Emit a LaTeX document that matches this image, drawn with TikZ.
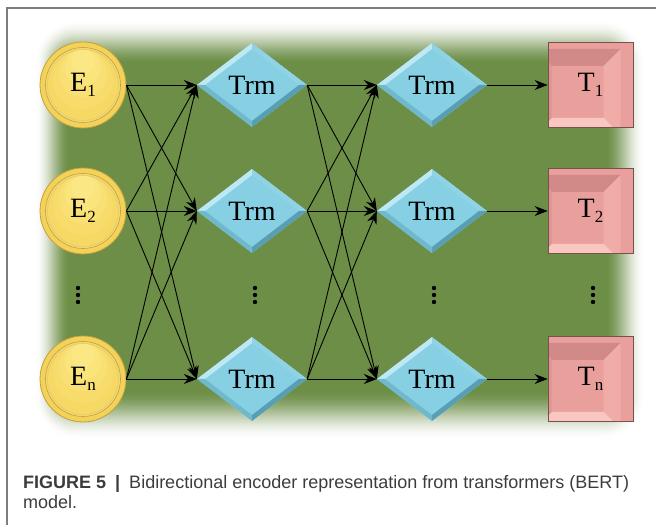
\documentclass[tikz,border=0pt]{standalone}
\usepackage{fontspec}
\setmainfont{Liberation Sans}
\newfontfamily\nodeserif{Liberation Serif}
\usepackage{tikz}
\usetikzlibrary{shapes.geometric, arrows.meta, positioning, calc}

\definecolor{bggreen}{RGB}{108,142,70}
\definecolor{goldrim}{RGB}{243,210,92}
\definecolor{goldedge}{RGB}{196,160,58}
\definecolor{goldlight}{RGB}{252,236,140}
\definecolor{goldfill}{RGB}{246,216,100}
\definecolor{trmblue}{RGB}{135,207,226}
\definecolor{trmlight}{RGB}{190,232,244}
\definecolor{trmmid}{RGB}{112,184,204}
\definecolor{trmdark}{RGB}{88,158,180}
\definecolor{tpink}{RGB}{233,160,156}
\definecolor{ttop}{RGB}{210,138,136}
\definecolor{tleft}{RGB}{222,150,146}
\definecolor{tright}{RGB}{240,172,167}
\definecolor{tbottom}{RGB}{250,198,192}
\definecolor{tedge}{RGB}{120,80,78}
\definecolor{framegray}{RGB}{125,125,125}
\definecolor{capgray}{RGB}{60,60,60}

\newcommand{\lowidx}[1]{\raisebox{-0.35ex}{\fontsize{17pt}{17pt}\selectfont #1}}

\tikzset{
  enc/.style={circle, minimum size=86pt, inner sep=0pt, fill=goldrim, draw=goldedge,
    line width=0.8pt, font=\nodeserif\fontsize{28pt}{28pt}\selectfont,
    path picture={
      \fill[goldfill] (path picture bounding box.center) circle (37.5pt);
      \foreach \r/\m in {30/20, 24/40, 18/60, 12/80} {
        \fill[goldlight!\m!goldfill] ([yshift=37.5pt-\r*1pt-2pt]path picture bounding box.center) circle (\r pt);
      }
      \draw[goldedge, line width=0.6pt] (path picture bounding box.center) circle (37.5pt);
      \draw[goldedge!60, line width=0.5pt] (path picture bounding box.center) circle (35.5pt);
    }},
  trm/.style={diamond, aspect=1.31, minimum width=110pt, minimum height=84pt, inner sep=0pt,
    fill=trmblue, font=\nodeserif\fontsize{28pt}{28pt}\selectfont,
    path picture={
      \begin{scope}[shift={(path picture bounding box.center)}]
        \fill[trmlight] (-55pt,0pt) -- (0pt,42pt) -- (0pt,36pt) -- (-47pt,0pt) -- cycle;
        \fill[trmblue!85!trmlight] (0pt,42pt) -- (55pt,0pt) -- (47pt,0pt) -- (0pt,36pt) -- cycle;
        \fill[trmdark] (55pt,0pt) -- (0pt,-42pt) -- (0pt,-36pt) -- (47pt,0pt) -- cycle;
        \fill[trmmid] (0pt,-42pt) -- (-55pt,0pt) -- (-47pt,0pt) -- (0pt,-36pt) -- cycle;
      \end{scope}
    }},
  tout/.style={rectangle, minimum size=85pt, inner sep=0pt, fill=tpink, draw=tedge,
    line width=0.8pt, font=\nodeserif\fontsize{28pt}{28pt}\selectfont,
    path picture={
      \begin{scope}[shift={(path picture bounding box.center)}]
        \fill[ttop] (-43pt,43pt) -- (43pt,43pt) -- (26pt,26pt) -- (-26pt,26pt) -- cycle;
        \fill[tright] (43pt,43pt) -- (43pt,-43pt) -- (26pt,-26pt) -- (26pt,26pt) -- cycle;
        \fill[tbottom] (43pt,-43pt) -- (-43pt,-43pt) -- (-26pt,-26pt) -- (26pt,-26pt) -- cycle;
        \fill[tleft] (-43pt,-43pt) -- (-43pt,43pt) -- (-26pt,26pt) -- (-26pt,-26pt) -- cycle;
      \end{scope}
    }},
  conn/.style={-{Stealth[length=13pt, width=10pt]}, line width=0.9pt},
}

\begin{document}
\begin{tikzpicture}[x=1pt, y=1pt]
\useasboundingbox (0,0) rectangle (656,525);

% frame
\draw[framegray, line width=1.2pt] (7,0) -- (7,517) -- (656,517);

% green background, edges fading to white
\foreach \k in {0,...,40} {
    \pgfmathsetmacro{\t}{\k/40}
    \pgfmathsetmacro{\mix}{100*(3*\t*\t-2*\t*\t*\t)}
    \pgfmathsetmacro{\rc}{42-\k}
    \fill[bggreen!\mix!white, rounded corners=\rc pt]
        (35+35*\t, 85+50*\t) rectangle (645-40*\t, 505-45*\t);
}

% embeddings
\node[enc] (e1) at (83,440) {E\lowidx{1}};
\node[enc] (e2) at (83,314) {E\lowidx{2}};
\node[enc] (e3) at (83,146) {E\lowidx{n}};

% transformer layers
\node[trm] (a1) at (252,440) {Trm};
\node[trm] (a2) at (252,314) {Trm};
\node[trm] (a3) at (252,146) {Trm};
\node[trm] (b1) at (432,440) {Trm};
\node[trm] (b2) at (432,314) {Trm};
\node[trm] (b3) at (432,146) {Trm};

% outputs
\node[tout] (t1) at (590.5,440) {T\lowidx{1}};
\node[tout] (t2) at (590.5,314) {T\lowidx{2}};
\node[tout] (t3) at (590.5,146) {T\lowidx{n}};

% connections
\foreach \i in {1,2,3} {
    \foreach \j in {1,2,3} {
        \draw[conn] (e\i.east) -- (a\j.west);
        \draw[conn] (a\i.east) -- (b\j.west);
    }
    \draw[conn] (b\i.east) -- (t\i.west);
}

% vertical dots
\foreach \x in {78,255,434,593} {
    \foreach \y in {223,230,237} {
        \fill (\x,\y) circle (2.2pt);
    }
}

% caption
\node[anchor=base west, text=capgray, font=\fontsize{18pt}{20pt}\selectfont, inner sep=0pt] (cap1) at (23,37)
    {\textbf{FIGURE 5}\enspace\textbf{|}\enspace Bidirectional encoder representation from transformers (BERT)};
\node[anchor=base west, text=capgray, font=\fontsize{18pt}{20pt}\selectfont, inner sep=0pt] (cap2) at (23,17) {model.};
\end{tikzpicture}
\end{document}
